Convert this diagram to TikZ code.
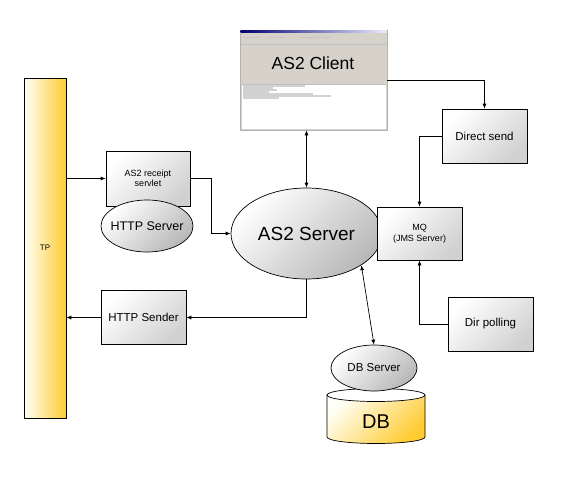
\documentclass[tikz,border=0pt]{standalone}
\usepackage{fontspec}
\setmainfont{Liberation Sans}
\usetikzlibrary{arrows.meta}
\usetikzlibrary{shapes.geometric}
\definecolor{tpgold}{RGB}{255,204,51}
\definecolor{winface}{RGB}{214,210,202}

\begin{document}
\begin{tikzpicture}
	[x=1pt,y=-1pt,line width=0.7pt,
	 box/.style={draw, top color=white, bottom color=black!18, shading angle=45, align=center, inner sep=1pt,
	   minimum width=85, minimum height=54, font=\fontsize{11.5}{13}\selectfont},
	 srv/.style={draw, ellipse, top color=white, bottom color=black!28, shading angle=45, inner sep=0pt},
	 link/.style={-{Latex[length=5pt,width=4pt]}},
	 twoway/.style={{Latex[length=5pt,width=4pt]}-{Latex[length=5pt,width=4pt]}}];

	\useasboundingbox (0,0) rectangle (567,480);

	%Trading partner
	\node[draw, left color=yellow!4, right color=tpgold, minimum width=42, minimum height=340,
	  font=\fontsize{8}{9}\selectfont] (tp) at (45,248) {TP};

	%Receiving side
	\node[box, minimum width=84, minimum height=55, font=\fontsize{9}{10.5}\selectfont] (servlet) at (148,178.5) {AS2 receipt\\servlet};
	\node[srv, inner xsep=-5pt, minimum width=92, minimum height=52, font=\fontsize{12.5}{14}\selectfont] (httpsrv) at (147,226) {HTTP Server};
	\node[box] (sender) at (143.5,317.5) {HTTP Sender};

	%Server
	\node[srv, minimum width=151, minimum height=91, font=\fontsize{19}{21}\selectfont] (as2) at (306.5,233.5) {AS2 Server};

	%Client window
	\node[draw=gray!60, fill=winface, minimum width=147, minimum height=100, inner sep=0pt] (client) at (313.5,80) {};
	\shade[left color=blue!45!black, right color=blue!8] (240.5,30.5) rectangle (386.5,32.5);
	\draw[gray!45, line width=1pt] (243,37) -- (262,37) (266,37) -- (284,37) (300,37) -- (330,37);
	\draw[gray!35, line width=1.5pt, dash pattern=on 14pt off 4pt] (242,41.5) -- (385,41.5);
	\draw[gray!50, line width=0.4pt] (241,44) -- (386,44);
	\fill[white] (241.5,84) rectangle (385.5,129);
	\draw[gray!50, line width=0.4pt] (241,84) -- (386,84);
	\foreach \y/\l in {86/62,88/30,90/34,92/26,94/70,96/88,98/36}
		\draw[gray!35, line width=1.2pt] (243,\y) -- ++(\l,0);
	\node[font=\fontsize{17.5}{19}\selectfont] (clientlbl) at (313,63) {AS2 Client};

	%Sending side
	\node[box] (direct) at (484.5,136) {Direct send};
	\node[box, minimum height=53, font=\fontsize{9}{11}\selectfont] (mq) at (419.5,233.5) {MQ\\(JMS Server)};
	\node[box] (dirpoll) at (490.5,324) {Dir polling};

	%DB
	\shade[top color=yellow!4, bottom color=tpgold, shading angle=45, draw=black]
	  (327,395) -- (327,437) arc[start angle=180, end angle=0, x radius=49, y radius=6.5] -- (425,395) -- cycle;
	\draw[fill=white] (376,395) ellipse[x radius=49, y radius=6.5];
	\node[font=\fontsize{20}{22}\selectfont] (db) at (376,422) {DB};
	\node[srv, inner xsep=-2pt, minimum width=86, minimum height=46, font=\fontsize{11.5}{13}\selectfont] (dbsrv) at (374,368) {DB Server};

	%Connectors
	\draw[link] (servlet.west -| tp.east) -- (servlet.west);
	\draw[link] (servlet.east) -- ++(21,0) |- (as2.west);
	\draw[twoway] (as2.north |- client.south) -- (as2.north);
	\draw[link] (client.east) -| (direct.north);
	\draw[link] (direct.west) -| (mq.north);
	\draw[link] (dirpoll.west) -| (mq.south);
	\draw[twoway] (as2.-30) -- (dbsrv.north);
	\draw[link] (as2.south) |- (sender.east);
	\draw[link] (sender.west) -- (sender.west -| tp.east);
\end{tikzpicture}
\end{document}
